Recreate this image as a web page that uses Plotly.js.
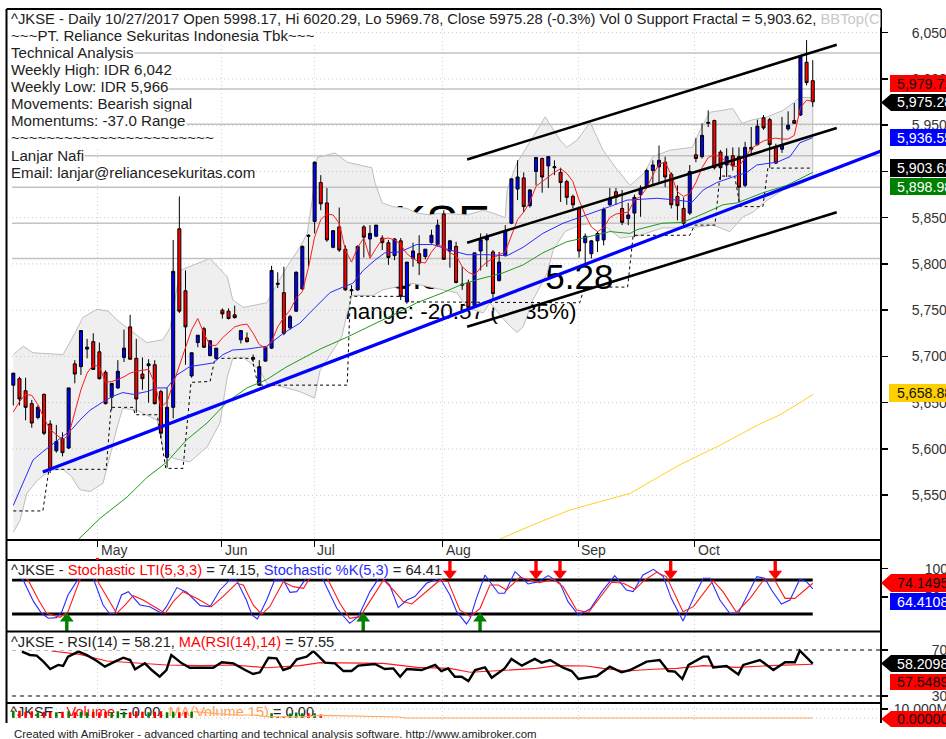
<!DOCTYPE html>
<html><head><meta charset="utf-8">
<script src="https://cdn.plot.ly/plotly-3.0.1.min.js"></script>
<style>html,body{margin:0;padding:0;background:#fff;overflow:hidden}#c{width:946px;height:739px}</style>
</head><body><div id="c"></div>
<script>
// ---------- daily candles (bar index 0..130) ----------
const barOpen=[5669,5676,5663,5649,5634,5659,5627,5598,5611,5601,
5692,5689,5708,5716,5705,5683,5656,5666,5699,5732,
5698,5681,5690,5691,5662,5591,5645,5838,5771,5679,
5715,5730,5701,5698,5750,5749,5745,5718,5720,5699,
5669,5695,5709,5778,5769,5731,5749,5773,5831,5846,
5888,5866,5818,5840,5816,5771,5772,5840,5827,5830,
5828,5823,5809,5825,5759,5806,5811,5808,5823,5821,
5854,5814,5819,5777,5780,5755,5814,5826,5813,5782,
5809,5844,5881,5893,5863,5900,5914,5906,5904,5899,
5889,5873,5860,5823,5811,5825,5826,5864,5878,5860,
5849,5855,5875,5884,5901,5905,5910,5897,5873,5860,
5855,5918,5916,5952,5955,5921,5907,5917,5916,5885,
5924,5929,5958,5956,5926,5924,5946,5955,5961,6018,5998.17];
const barHigh=[5682,5678,5677,5653,5647,5660,5631,5626,5618,5666,
5696,5728,5719,5725,5715,5685,5671,5696,5729,5745,
5719,5699,5697,5696,5664,5666,5826,5873,5793,5704,
5723,5732,5717,5709,5752,5752,5755,5728,5726,5702,
5696,5711,5798,5791,5797,5745,5792,5820,5832,5911,
5896,5882,5836,5861,5820,5777,5820,5842,5842,5842,
5831,5826,5828,5828,5802,5823,5831,5816,5837,5848,
5858,5826,5824,5797,5783,5812,5833,5833,5815,5813,
5842,5892,5912,5899,5881,5915,5915,5916,5912,5904,
5891,5875,5862,5833,5826,5835,5861,5882,5882,5880,
5866,5875,5885,5903,5912,5928,5916,5899,5885,5872,
5907,5936,5952,5966,5956,5923,5925,5926,5926,5932,
5948,5956,5961,5958,5930,5959,5965,5974,6024,6042,6020.29];
const barLow=[5647,5647,5631,5623,5632,5615,5574,5596,5592,5600,
5671,5680,5698,5686,5675,5648,5642,5665,5694,5697,
5639,5664,5650,5648,5612,5580,5633,5747,5691,5677,
5710,5709,5700,5696,5741,5740,5741,5714,5715,5694,
5668,5694,5708,5774,5723,5729,5748,5772,5797,5833,
5858,5824,5817,5813,5771,5766,5771,5807,5808,5829,
5815,5799,5804,5761,5757,5797,5788,5805,5822,5819,
5805,5796,5779,5772,5752,5753,5793,5797,5761,5781,
5808,5843,5869,5856,5861,5885,5877,5882,5896,5867,
5864,5860,5807,5799,5806,5813,5820,5863,5864,5842,
5842,5829,5851,5882,5885,5887,5883,5860,5847,5840,
5853,5910,5914,5948,5902,5891,5894,5901,5867,5883,
5918,5928,5945,5904,5908,5920,5944,5952,5960,5993,5969.78];
const barClose=[5682,5654,5645,5628,5645,5617,5578,5608,5596,5666,
5681,5728,5710,5686,5676,5649,5671,5684,5709,5697,
5654,5676,5692,5649,5617,5645,5792,5749,5732,5704,
5723,5710,5717,5709,5746,5741,5742,5728,5716,5697,
5689,5710,5793,5779,5725,5743,5791,5819,5830,5910,
5865,5826,5836,5815,5772,5772,5819,5829,5833,5842,
5823,5807,5827,5765,5802,5814,5801,5816,5831,5842,
5805,5825,5780,5778,5753,5812,5826,5829,5768,5802,
5836,5892,5894,5862,5880,5915,5894,5916,5905,5888,
5872,5864,5814,5830,5825,5833,5859,5871,5872,5845,
5853,5872,5882,5901,5907,5912,5894,5864,5863,5844,
5900,5914,5939,5953,5904,5904,5916,5906,5883,5926,
5926,5949,5947,5929,5909,5929,5950,5952,6024,5996,5975.28];
// short red average, one value per bar
const maShort=[5640,5651,5659,5658,5648,5633,5621,5615,5610,5615,
5639,5664,5682,5691,5689,5672,5673,5675,5678,5682,
5684,5685,5686,5671,5645,5651,5671,5689,5709,5729,
5741,5725,5712,5712,5720,5726,5732,5734,5735,5725,
5713,5709,5716,5732,5742,5750,5763,5770,5796,5829,
5848,5854,5853,5844,5815,5802,5818,5828,5806,5817,
5827,5828,5826,5821,5811,5806,5802,5801,5813,5821,
5818,5812,5809,5797,5791,5788,5796,5802,5806,5810,
5813,5831,5848,5856,5867,5884,5889,5894,5899,5903,
5898,5889,5869,5853,5840,5835,5839,5850,5854,5855,
5856,5869,5873,5882,5896,5908,5910,5896,5878,5873,
5876,5888,5904,5915,5918,5916,5910,5906,5905,5915,
5925,5929,5933,5935,5936,5935,5935,5939,5969,5977,5976];
// sparse readings: index + value
const maMidX=[0,1.6,3.2,4.8,9.5,10.8,12.5,14.6,16.2,17.8,19.5,21.7,23.4,25,26.6,28.7,30.4,32.5,34.1,35.7,38,41.2,43.9,46.6,48.2,49.9,51.5,53.6,55.2,56.9,58.8,60.4,62.9,65.6,68.2,71,73.8,77,80.3,82.9,86.1,89.4,93.3,97,99.8,104.7,107.9,110.4,112.2,114.4,117,119.3,120.9,124.2,126.3,127.9,130];
const maMidY=[5539,5564,5588,5597,5621,5631,5642,5651,5657,5661,5659,5662,5666,5666,5680,5689,5691,5693,5702,5707,5708,5711,5725,5736,5747,5758,5769,5775,5779,5793,5804,5812,5813,5821,5821,5815,5810,5810,5809,5818,5833,5844,5853,5862,5869,5871,5869,5867,5880,5888,5894,5899,5907,5910,5916,5931,5936.55];
const maLongX=[10.4,14.1,18.5,21.7,25,28.2,31.5,34.8,38,41.2,44.5,49.9,54.3,59.1,62.4,65.6,69.9,72.6,75.4,79.5,82.9,86.1,90,93.3,97,100.3,101.4,105.5,108.9,112.8,115.4,117.7,121.9,125.8,130];
const maLongY=[5501,5525,5548,5569,5586,5610,5628,5651,5666,5675,5689,5708,5721,5736,5747,5758,5769,5777,5783,5790,5799,5812,5824,5829,5835,5833,5837,5844,5845,5856,5864,5866,5877,5885,5898.98];
const maYearX=[78.6,84.5,90.5,100.3,108.4,114.9,121.4,124.7,127.9,130];
const maYearY=[5501,5518,5534,5552,5583,5604,5627,5637,5650,5658.88];
const bandTopX=[0,1.6,3.2,8.1,10,11.3,13.6,15.4,17.3,19.5,21.7,24.3,25.5,27.1,32,34.8,35.7,37.4,41.2,44.5,46.6,47.8,48.6,49.4,52.3,54.3,58.3,58.8,60,61.7,64,65.6,67.8,69.4,73.8,76.4,78,80,80.3,81.9,85.2,86.5,88.9,90,91.7,93.8,95.9,98.2,100.3,101.4,102.7,104,106.8,110.4,111.7,113.3,117,118.5,120.3,122.6,125.2,126.8,127.9,130];
const bandTopY=[5702,5711,5704,5702,5725,5742,5751,5749,5737,5726,5715,5718,5731,5793,5806,5786,5761,5753,5758,5797,5818,5833,5869,5915,5920,5910,5904,5888,5866,5862,5860,5855,5853,5855,5853,5858,5855,5850,5880,5909,5945,5959,5934,5926,5934,5953,5923,5902,5885,5891,5899,5916,5923,5926,5945,5964,5968,5952,5956,5959,5966,5974,5980,5979.72];
const bandLowX=[0,1.1,2.2,3.9,6,8.1,9.5,10.8,12.5,14.6,15.7,16.9,17.8,20.1,23.4,24.3,26,28.7,31.5,33.6,34.8,35.7,37.4,40.1,41.2,43.9,46.6,49,49.9,53.4,54.3,55.1,58.5,60.1,65,69.9,72.1,73.8,76.4,77.5,80.3,81.9,82.9,84.5,86.8,87.8,89.7,92.1,95.4,98.7,101.9,105.6,110,113.8,116.5,118.7,120.3,122.6,125.2,127.5,130];
const bandLowY=[5510,5523,5552,5566,5577,5578,5570,5556,5554,5563,5591,5624,5644,5642,5631,5602,5590,5586,5602,5628,5678,5698,5699,5685,5671,5667,5662,5655,5685,5721,5747,5766,5766,5772,5779,5772,5769,5753,5747,5758,5736,5726,5732,5761,5790,5815,5835,5842,5845,5828,5831,5839,5839,5842,5835,5851,5856,5869,5880,5885,5893];
const fractalX=[0,4.8,5.8,15.1,15.9,19.5,19.8,23.4,24.8,27.6,28.9,32,32.8,38.8,39.8,54.3,54.8,64,64.5,92.1,92.9,99.9,100.8,110,110.8,114.1,114.9,117.3,118.2,121.9,122.7,130];
const fractalY=[5533,5533,5578,5578,5645,5645,5637,5637,5579,5579,5672,5673,5698,5698,5669,5669,5765,5765,5759,5758,5775,5775,5831,5831,5842,5842,5895,5895,5862,5862,5903.62,5903.62];
// hand-drawn trend lines
const trendX=[4.8,141.1], trendY=[5575,5922];
const chanX=[73.8,133.9];
const chanTop=[5913,6037], chanMid=[5823,5947], chanLow=[5732,5856];
// horizontal study lines
const levels=[6028,5989,5951,5917,5883,5844,5806];
const priceTicks=[5550,5600,5650,5700,5750,5800,5850,5900,5950,6000,6050];
const priceTickText=['5,550','5,600','5,650','5,700','5,750','5,800','5,850','5,900','5,950','6,000','6,050'];
// months
const monthNames=['May','Jun','Jul','Aug','Sep','Oct'];
const monthPos=[13.7,33.9,48.9,69.8,91.9,110.8];
// stochastic
const stochKX=[0,1.6,3.3,4.6,5.7,7,7.9,8.9,10.8,11.9,13,14.6,15.7,16.5,17.6,18.7,20.6,22.2,24.1,24.9,26.6,28.2,30.4,32,33.6,35.2,36.3,37.9,38.8,39.7,41.2,42.5,43.9,45,46.1,48,49.3,50.4,52.6,54.7,56.1,58,59.6,61.2,62.6,64,65.3,67.2,69.4,71,72.1,73.7,74.3,75.3,76.7,78.9,79.9,81.6,83.7,85.4,87,88.9,90.2,91.9,93.8,95.7,97.8,99.7,100.8,102.4,104.1,105.7,107,108.9,111.1,112.2,113.3,114.9,116.5,117.9,120.9,122.2,123.3,124.9,126.3,127.9,129,130];
const stochKY=[90,80,41.8,21.2,12.4,13.5,24.1,53.5,85.9,94.7,82.9,35.9,20,21.2,53.5,59.4,35.9,32.9,21.2,32.9,66.5,58.2,34.7,32.9,62.3,80,80,44.7,18.2,11.2,44.7,80,80,58.2,59.4,88.8,97.6,80,30,3.5,15.3,59.4,85.9,71.2,31.2,44.7,50.6,74.1,82.9,53.5,24.1,2.4,12.4,47.6,88.8,56.5,56.5,94.7,72.9,77,87.6,74.1,41.8,18.2,28.8,59.4,87.6,62.3,59.4,88.8,98.8,85.9,47.6,7.7,59.4,82.9,82.9,44.7,21.2,21.2,85.9,82.9,62.3,37.6,44.7,81.2,77,64.41];
const stochDX=[0,2.4,4.1,5.4,7.6,8.9,10.8,12.2,13.6,15.7,16.8,18.2,19.5,21.1,23.3,24.7,26,27.6,29.8,32.2,34.1,36.3,37.4,39,40.4,41.7,43.9,45.5,47.2,48.2,49.9,51.2,53.1,54.7,56.4,58,60.2,61.8,63.4,64.8,67.2,69.4,70.7,72.6,74.3,75.9,77.5,78.9,80.2,82.4,85.6,87.8,89.4,91.6,93.5,95.1,97.3,99.2,101.1,102.7,104.6,106.2,108.9,110.6,113.8,115.4,117.6,119.8,122,123.8,125.5,127.1,130];
const stochDY=[95,80,44.7,21.2,14.1,24.1,80,97.6,80,41.8,21.2,35.9,52.3,44.7,30,21.2,41.8,59.4,47.6,32.9,50.6,74.1,71.2,35.9,19.4,32.9,77,68.2,65.3,82.9,97.6,80,38.8,12.4,15.3,41.8,80,62.3,41.8,37.6,59.4,80,77,27.1,15.3,30,71.2,71.2,62.3,84.7,75.3,81.2,68.2,27.1,22.4,44.7,75.9,74.1,63.5,80,93.5,85.9,24.1,32.9,78.8,59.4,22.9,47.6,80,80,47.6,47.6,74.15];
const stochBands=[80,20];
const sellAt=[71,85,88.9,106.9,123.9];
const buyAt=[8.7,56.9,75.9];
// RSI
const rsiX=[1.4,2.7,3.8,4.9,6,7.3,8.1,8.9,10.6,11.9,13.6,14.9,16.5,17.9,19,19.8,21.4,22.5,23.8,24.9,25.7,27.4,28.7,32.5,33.9,35.8,37.7,39,40.1,41.5,42.8,43.9,45,46.1,47.7,48.8,50.7,52.3,53.7,55,56.1,58.8,60.4,61.8,62.9,64,66.4,68.6,69.6,70.7,71.8,72.9,74,75.1,76.7,77.8,79.9,81,82.7,84.8,85.9,87.3,89.4,90.8,91.9,94.9,97,98.9,100.3,103,105.1,106.5,107.6,108.8,109.8,112.2,113,113.8,116,117.9,118.7,121.4,123.6,125.5,127.1,127.9,130];
const rsiY=[68.6,65.7,65.1,59.9,53.5,57,56.1,64.2,68.6,65.7,60.4,55.5,59.9,63.3,61.3,53.2,58.4,52.6,46.8,52.6,65.7,58.4,54.6,54.6,59.3,58.4,52.6,49.1,50.6,63.3,62.8,52.6,54.6,61.9,64.2,69.1,59,58.4,51.7,51.7,56.4,57.8,53.5,54,46.8,53.5,52.6,57,51.7,54,46.8,46.8,43,52.6,54.9,45.9,54,62.2,56.4,62.2,59,61.3,54.6,51.7,44.8,47.4,55.5,50.6,52.6,59.9,61.3,51.7,51.2,44.8,57,64.2,64.2,54.9,56.1,48.8,57,61.3,52.6,59.3,59.3,69.4,58.21];
const rsiMaX=[6.2,10.8,15.2,20.6,24.9,30.4,35.8,41.2,46.6,49.9,54.7,60.2,65.6,71,74.3,79.7,85.1,88.3,93.2,95.9,99.7,104.1,107.9,112.2,117.6,123,130];
const rsiMaY=[69.1,66.2,60.4,58.4,57,56.4,57,54.6,56.4,59,59,58.4,54.9,54,50.6,52.6,54,56.4,56.1,54,51.7,53.2,54,56.4,54.9,56.4,57.55];
const rsiBands=[70,30];
// volume (read from the clipped strip at the foot)
const volumeX=[0,1,2,3,4,5,6,7,8,9,10,11,12,13,14,15,16,17,18,19,20,21,22,23,24,25,26,27,28,29,42,43,44,45,46,47,48,49,50];
const volumeY=[8000,8000,7000,7500,6500,7000,7000,6500,7000,7500,6500,7000,6500,7000,6500,7000,6500,7500,7000,6500,7500,7000,6500,7000,7500,6500,7000,6500,7000,7000,5200,1500,1500,5000,6000,5200,5200,5200,4000];
const volMaX=[29.3,32.5,35.8,39,41.2,46.6,49.9,52,62.9,63.7,130];
const volMaY=[7030,5180,3330,3330,1480,1110,2960,2590,1110,0,0];

// ---------- helpers ----------
const W=946,H=739;
const px=x=>x/W, py=y=>1-y/H;
const FONT='"Liberation Sans", Arial, sans-serif';
const X0=6.5,X1=881;
const xRange=[-1.106,141.1];
const dom=(a,b)=>[1-b/H,1-a/H];
const line=(x,y,color,width,extra)=>({type:'scatter',mode:'lines',x,y,line:{color,width,...(extra||{})},hoverinfo:'skip',showlegend:false});
const on=(t,xa,ya)=>Object.assign(t,{xaxis:xa,yaxis:ya});

const traces=[];
// --- base subplot (x,y): ghost text, band, levels ---
traces.push(on({type:'scatter',mode:'text',x:[58],y:[5840],text:['JKSE'],textposition:'middle right',textfont:{family:FONT,size:48,color:'#000'},showlegend:false},'x','y'));
traces.push(on({type:'scatter',mode:'text',x:[97.6],y:[5782],text:['Close 5975.28'],textposition:'middle left',textfont:{family:FONT,size:35,color:'#000'},showlegend:false},'x','y'));
traces.push(on({type:'scatter',mode:'text',x:[91.6],y:[5747],text:['Change: -20.57 (-0.35%)'],textposition:'middle left',textfont:{family:FONT,size:22.5,color:'#000'},showlegend:false},'x','y'));
traces.push(on({type:'scatter',mode:'lines',fill:'toself',fillcolor:'#efefef',
  x:bandTopX.concat(bandLowX.slice().reverse()),y:bandTopY.concat(bandLowY.slice().reverse()),
  line:{color:'#bdbdbd',width:1},showlegend:false},'x','y'));
priceTicks.forEach(v=>traces.push(on(line([-0.2,141.1],[v,v],'#c4c4c4',1,{dash:'1px 3px'}),'x','y')));
levels.forEach(v=>traces.push(on(line([-0.2,141.1],[v,v],'#c2c2c2',1.5),'x','y')));
// --- overlay subplot (x2,y2): candles and lines ---
traces.push({type:'candlestick',x:barClose.map((_,i)=>i),open:barOpen,high:barHigh,low:barLow,close:barClose,
  xaxis:'x2',yaxis:'y2',width:0.8,whiskerwidth:0,showlegend:false,
  increasing:{line:{color:'#000',width:1},fillcolor:'#0000ff'},
  decreasing:{line:{color:'#000',width:1},fillcolor:'#ff0000'}});
traces.push(on(line(fractalX,fractalY,'#000',1,{dash:'3px 3px'}),'x2','y2'));
traces.push(on(line(maYearX,maYearY,'#ffd21f',1),'x2','y2'));
traces.push(on(line(maLongX,maLongY,'#1f9a1f',1),'x2','y2'));
traces.push(on(line(maMidX,maMidY,'#2a2aff',1),'x2','y2'));
traces.push(on(line(barClose.map((_,i)=>i),maShort,'#ff1a1a',1),'x2','y2'));
traces.push(on(line(trendX,trendY,'#0000ff',3.2),'x2','y2'));
[chanTop,chanMid,chanLow].forEach(c=>traces.push(on(line(chanX,c,'#000',2.6),'x2','y2')));
// --- stochastic ---
stochBands.forEach(v=>traces.push(on(line([-0.2,130],[v,v],'#000',3),'x','y3')));
traces.push(on(line(stochKX,stochKY,'#2a2aff',1.1),'x','y3'));
traces.push(on(line(stochDX,stochDY,'#ff1a1a',1.1),'x','y3'));
const stems=(arr,a,b)=>({x:arr.flatMap(i=>[i,i,null]),y:arr.flatMap(()=>[a,b,null])});
let s=stems(sellAt,92,125); traces.push(on(line(s.x,s.y,'#ff0000',3.4),'x','y3'));
s=stems(buyAt,-20,10); traces.push(on(line(s.x,s.y,'#008000',3.4),'x','y3'));
traces.push(on({type:'scatter',mode:'markers',x:sellAt,y:sellAt.map(()=>91),marker:{symbol:'triangle-down',size:12,color:'#ff0000'},showlegend:false},'x','y3'));
traces.push(on({type:'scatter',mode:'markers',x:buyAt,y:buyAt.map(()=>12),marker:{symbol:'triangle-up',size:12,color:'#008000'},showlegend:false},'x','y3'));
// --- RSI ---
rsiBands.forEach(v=>traces.push(on(line([-0.2,141.1],[v,v],'#000',1,{dash:'4px 4px'}),'x','y4')));
traces.push(on(line(rsiMaX,rsiMaY,'#ff1a1a',1.1),'x','y4'));
traces.push(on(line(rsiX,rsiY,'#000',2.4),'x','y4'));
// --- volume: clipped heading below, bars above ---
traces.push(on({type:'scatter',mode:'text',x:[-0.5],y:[0.23],cliponaxis:true,
  text:['^JKSE - <span style="color:#ff0000">Volume</span> = 0.00, <span style="color:#ffa050">MA(Volume,15)</span> = 0.00'],
  textposition:'middle right',textfont:{family:FONT,size:14.6,color:'#222'},showlegend:false},'x','y5'));
traces.push(on(line([-0.2,141.1],[10000,10000],'#c4c4c4',1,{dash:'1px 3px'}),'x','y6'));
traces.push(on(line([-0.2,141.1],[0,0],'#c4c4c4',1,{dash:'1px 3px'}),'x','y6'));
traces.push(on({type:'bar',x:volumeX,y:volumeY,width:0.42,showlegend:false,
  marker:{color:volumeX.map(i=>barClose[i]>=barOpen[i]?'#008000':'#ff0000'),line:{width:0}}},'x','y6'));
traces.push(on(line(volMaX,volMaY,'#ffa860',1.2),'x','y6'));

const axisFont={family:FONT,size:14,color:'#333'};
const yBase=(range,tickvals,ticktext,standoff,domain,shift)=>({domain,range,tickvals,ticktext,side:'right',anchor:'x',
  showgrid:false,zeroline:false,showline:false,ticks:'outside',ticklen:6,tickcolor:'#000',tickwidth:1.5,
  tickfont:axisFont,ticklabelstandoff:standoff,ticklabelshift:shift||0,fixedrange:true});

const mainDom=dom(9,540);
const layout={width:W,height:H,margin:{l:0,r:0,t:0,b:0,pad:0},paper_bgcolor:'#fff',plot_bgcolor:'rgba(0,0,0,0)',showlegend:false,
  barmode:'overlay',font:{family:FONT,size:14,color:'#222'},
  xaxis:{domain:[px(X0),px(X1)],range:xRange,anchor:'y',tickvals:monthPos,ticks:'outside',ticklen:6,tickcolor:'#000',tickwidth:1,
    showticklabels:false,showgrid:true,gridcolor:'#cfcfcf',griddash:'1px 3px',zeroline:false,rangeslider:{visible:false},fixedrange:true},
  xaxis2:{domain:[px(X0),px(X1)],range:xRange,overlaying:'x',anchor:'y2',visible:false,rangeslider:{visible:false},fixedrange:true},
  yaxis:yBase([5501.6,6075.6],priceTicks,priceTickText,21,mainDom,1.2),
  yaxis2:{domain:mainDom,range:[5501.6,6075.6],overlaying:'y',anchor:'x2',visible:false,fixedrange:true},
  yaxis3:yBase([-10.9,115.2],[100,50],['100','50'],34,dom(560,631.5)),
  yaxis4:yBase([23.9,86.1],[70,30],['70','30'],41,dom(631.5,703)),
  yaxis5:{domain:dom(703,716),range:[0,1],anchor:'x',visible:false,fixedrange:true},
  yaxis6:yBase([-5556,16667],[10000],['10,000M'],3,dom(703,723)),
  shapes:[],annotations:[]};
const S=layout.shapes,A=layout.annotations;
// frame
const seg=(x0,y0,x1,y1,w)=>S.push({type:'line',xref:'paper',yref:'paper',x0:px(x0),y0:py(y0),x1:px(x1),y1:py(y1),line:{color:'#000',width:w||2},layer:'above'});
seg(X0,9,X0,723);seg(X1,9,X1,723);seg(X0,9,X1,9);seg(X0,540,X1,540);seg(X0,560,X1,560);seg(X0,631.5,X1,631.5);seg(X0,703,X1,703);
S.push({type:'rect',xref:'paper',yref:'paper',x0:px(96),x1:px(99),y0:py(560),y1:py(558),fillcolor:'#ff0000',line:{width:0},layer:'above'});

// month labels
monthNames.forEach((m,i)=>A.push({xref:'x',yref:'paper',x:monthPos[i],y:py(550),text:m,showarrow:false,xanchor:'left',yanchor:'middle',xshift:1,font:axisFont}));

// text block
const head=(y,text,size)=>A.push({xref:'paper',yref:'paper',x:px(10),y:py(y),text,showarrow:false,xanchor:'left',yanchor:'middle',
  align:'left',bgcolor:'#fff',borderpad:0,font:{family:FONT,size,color:'#222'}});
head(19,'^JKSE - Daily 10/27/2017 Open 5998.17, Hi 6020.29, Lo 5969.78, Close 5975.28 (-0.3%) Vol 0 Support Fractal = 5,903.62, <span style="color:#c8c8c8">BBTop(C</span>',14.8);
['~~~PT. Reliance Sekuritas Indonesia Tbk~~~','Technical Analysis','Weekly High: IDR 6,042','Weekly Low: IDR 5,966','Movements: Bearish signal','Momentums: -37.0 Range','~~~~~~~~~~~~~~~~~~~~~~~','Lanjar Nafi','Email: lanjar@reliancesekuritas.com']
  .forEach((t,i)=>head(35.7+i*17.05,t,15.1));
head(570,'^JKSE - <span style="color:#ff0000">Stochastic LTI(5,3,3)</span> = 74.15, <span style="color:#2a2aff">Stochastic %K(5,3)</span> = 64.41',14.7);
head(642,'^JKSE - RSI(14) = 58.21, <span style="color:#ff0000">MA(RSI(14),14)</span> = 57.55',14.6);

// footer
A.push({xref:'paper',yref:'paper',x:px(12),y:py(733.5),text:'Created with AmiBroker - advanced charting and technical analysis software. http://www.amibroker.com',showarrow:false,xanchor:'left',yanchor:'middle',font:{family:FONT,size:11.45,color:'#222'}});

// value flags
const flag=(y0,y1,x0,fill,color,text,arrow)=>{
  const m=(y0+y1)/2;
  if(arrow){
    S.push({type:'path',xref:'paper',yref:'paper',path:`M ${px(881)} ${py(m)} L ${px(891)} ${py(y0)} L ${px(946)} ${py(y0)} L ${px(946)} ${py(y1)} L ${px(891)} ${py(y1)} Z`,fillcolor:fill,line:{width:0},layer:'above'});
  } else {
    S.push({type:'rect',xref:'paper',yref:'paper',x0:px(x0),x1:px(946),y0:py(y0),y1:py(y1),fillcolor:fill,line:{width:0},layer:'above'});
  }
  A.push({xref:'paper',yref:'paper',x:px(895),y:py(m),text,showarrow:false,xanchor:'left',yanchor:'middle',font:{family:FONT,size:14.2,color}});
};
flag(75,92,890,'#ff0000','#111','5,979.72',false);
flag(94,111,0,'#000','#fff','5,975.28',true);
flag(129,146,890,'#0000ff','#fff','5,936.55',false);
flag(159,177,890,'#000','#fff','5,903.62',false);
flag(178,195,890,'#008000','#fff','5,898.98',false);
flag(384,402,889,'#ffd000','#111','5,658.88',false);
flag(574,592,0,'#ff0000','#111','74.14950',true);
flag(593,610,890,'#0000ff','#fff','64.41080',false);
flag(655,672,0,'#000','#fff','58.20980',true);
flag(674,690,890,'#ff0000','#111','57.54890',false);
flag(711,727,0,'#ff0000','#111','0.00000',true);

Plotly.newPlot('c',traces,layout,{staticPlot:true,displayModeBar:false});
</script></body></html>
